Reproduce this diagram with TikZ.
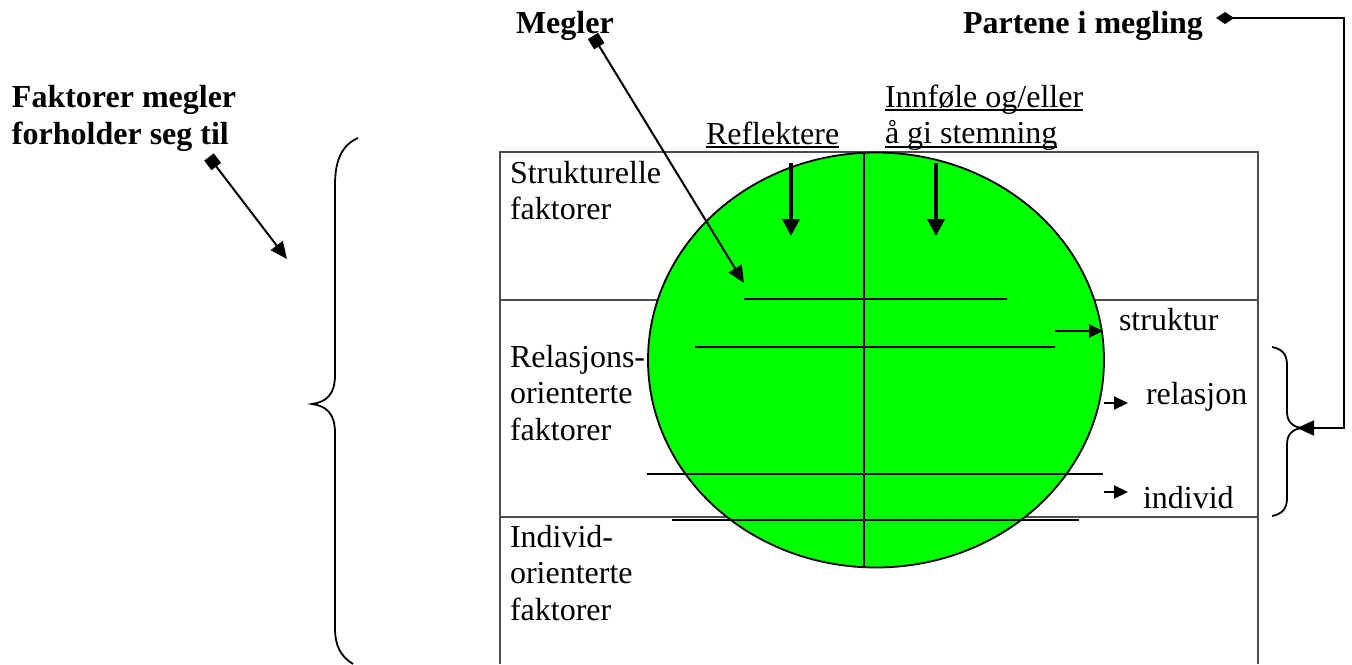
\documentclass[tikz,border=0pt]{standalone}
\usepackage{fontspec}
\setmainfont{Liberation Serif}
\usetikzlibrary{arrows.meta}
\newcommand\fs{\rule{0pt}{24pt}}
\newcommand\myul[1]{\setbox0\hbox{#1}\rlap{\rule[-4pt]{\wd0}{1.6pt}}\box0}
\definecolor{ballgreen}{RGB}{0,255,0}
\begin{document}
\begin{tikzpicture}[x=1pt,y=-1pt,
  every node/.style={inner sep=0pt,outer sep=0pt},
  txt/.style={font=\fontsize{32}{36.7}\selectfont,align=left},
  btxt/.style={font=\fontsize{32}{37}\selectfont\bfseries,align=left},
  boxline/.style={draw=black!70,line width=1.6pt},
  inner/.style={draw=black,line width=2.5pt},
  downarrow/.style={line width=3.8pt,-{Triangle[length=17pt,width=17pt]}},
  conn/.style={line width=2pt,-{Triangle[length=17pt,width=15pt]}},
  smallarrow/.style={line width=2pt,-{Triangle[length=14pt,width=13pt]}},
  brace/.style={line width=1.8pt}]
\useasboundingbox (0,0) rectangle (1352,664);

% box
\draw[boxline] (500,664) -- (500,152) -- (1258,152) -- (1258,664);
\draw[boxline] (500,300) -- (1258,300);
\draw[boxline] (500,517) -- (1258,517);

% ball
\filldraw[fill=ballgreen,draw=black,line width=1.8pt] (876,360) ellipse [x radius=228,y radius=207.5];
\draw[inner] (864,152) -- (864,567);
\draw[inner] (744,299) -- (1007,299);
\draw[inner] (695,347) -- (1055,347);
\draw[inner] (647,474) -- (1103,474);
\draw[inner] (672,520) -- (1079,520);

% labels
\node[btxt,anchor=base west] (megler) at (516,33) {Megler};
\node[btxt,anchor=base west] (partene) at (963,33) {Partene i megling};
\node[btxt,anchor=north west] (faktorer) at (12,83) {\fs Faktorer megler\\forholder seg til};
\node[txt,anchor=base west] (refl) at (706,144) {\myul{Reflektere}};
\node[txt,anchor=north west] (innfole) at (885,83) {\fs\myul{Innføle og/eller}\\\myul{å gi stemning}};
\node[txt,anchor=north west] (strukt) at (510,159) {\fs Strukturelle\\faktorer};
\node[txt,anchor=north west] (relas) at (510,343) {\fs Relasjons-\\orienterte\\faktorer};
\node[txt,anchor=north west] (indiv) at (510,523) {\fs Individ-\\orienterte\\faktorer};
\node[txt,anchor=base west] (struktur) at (1119,330) {struktur};
\node[txt,anchor=base west] (relasjon) at (1146,404) {relasjon};
\node[txt,anchor=base west] (individ) at (1143,508) {individ};

% down arrows
\coordinate (r1) at (791,163); \coordinate (r2) at (791,236);
\coordinate (i1) at (936,163); \coordinate (i2) at (936,236);
\draw[downarrow] (r1) -- (r2);
\draw[downarrow] (i1) -- (i2);

% right arrows
\coordinate (s1) at (1055,331); \coordinate (s2) at (1103,331);
\coordinate (re1) at (1104,403); \coordinate (re2) at (1128,403);
\coordinate (in1) at (1104,492); \coordinate (in2) at (1128,492);
\draw[smallarrow] (s1) -- (s2);
\draw[smallarrow] (re1) -- (re2);
\draw[smallarrow] (in1) -- (in2);

% connectors
\coordinate (mstart) at (593,36);
\coordinate (mend) at (744,283);
\draw[conn,{Square[length=12pt,width=12pt]}-{Triangle[length=17pt,width=15pt]}] (mstart) -- (mend);
\coordinate (fstart) at (209,157);
\coordinate (fend) at (287,259);
\draw[conn,{Square[length=12pt,width=12pt]}-{Triangle[length=17pt,width=15pt]}] (fstart) -- (fend);
\coordinate (pstart) at (1216,18);
\coordinate (pcorner) at (1344,18);
\coordinate (rbtip) at (1297,428);
\draw[conn,{Diamond[length=18pt,width=12pt]}-{Triangle[length=17pt,width=15pt]}] (pstart) -- (pcorner) |- (rbtip);

% braces
\draw[brace] (358,138) .. controls (342,145) and (335,160) .. (335,185)
  -- (335,375) .. controls (335,395) and (326,402) .. (312,404)
  .. controls (326,406) and (335,413) .. (335,433)
  -- (335,628) .. controls (335,645) and (340,656) .. (353,664);
\draw[brace] (1272,347) .. controls (1282,349) and (1287,354) .. (1287,365)
  -- (1287,412) .. controls (1287,422) and (1293,427) .. (1302,428)
  .. controls (1293,429) and (1287,434) .. (1287,444)
  -- (1287,498) .. controls (1287,509) and (1282,514) .. (1272,516);
\end{tikzpicture}
\end{document}
